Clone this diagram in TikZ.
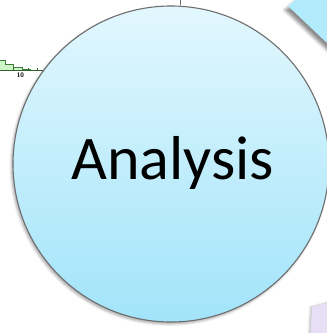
\documentclass[tikz,border=0pt]{standalone}
\usepackage{fontspec}
\setmainfont{Carlito}
\usetikzlibrary{shadows.blur}
\definecolor{ringgray}{HTML}{6E6E6E}
\definecolor{skytop}{HTML}{E2F7FE}
\definecolor{skybot}{HTML}{A2E4FA}
\definecolor{tilecyan}{HTML}{B2EBFC}
\definecolor{tilelav}{HTML}{E6DFF5}
\definecolor{barfill}{HTML}{CDF5C6}
\definecolor{barline}{HTML}{3F7D3F}
\tikzset{
  bigdisc/.style={circle, draw=ringgray, line width=1.1pt, minimum size=316pt,
    inner sep=0pt, top color=skytop, bottom color=skybot,
    blur shadow={shadow xshift=-1.5pt, shadow yshift=-2pt, shadow blur radius=2.5pt, shadow opacity=35}},
  bigword/.style={font=\fontsize{62}{62}\selectfont, anchor=base, inner sep=0pt},
  bars/.style={fill=barfill, draw=barline, line width=0.5pt},
  axisline/.style={draw=barline!80!black, line width=0.7pt},
}
\begin{document}
\begin{tikzpicture}[x=1pt, y=-1pt]
  \useasboundingbox (0,0) rectangle (327,333);
  \clip (0,0) rectangle (327,333);

  % tilted cyan panel, upper right
  \fill[tilecyan, blur shadow={shadow xshift=-3pt, shadow yshift=-4pt, shadow blur radius=3pt, shadow opacity=45}]
    (288,6) -- (298,-2) -- (345,-2) -- (345,60) -- cycle;

  % lavender panel, lower right
  \fill[tilelav, blur shadow={shadow xshift=-1.5pt, shadow yshift=0pt, shadow blur radius=2pt, shadow opacity=25}]
    (312,307) -- (335,301) -- (335,340) -- (310,340) -- cycle;

  % small histogram, upper left
  \draw[bars] (-2,70.5) -- (-2,60) -- (5,60) -- (5,64.5) -- (13,64.5) -- (13,67) -- (22,67)
    -- (22,69) -- (30,69) -- (30,70.5) -- cycle;
  \draw[axisline] (-2,70.5) -- (48,70.5);
  \foreach \tx in {13,28,37} \draw[axisline, line width=0.5pt] (\tx,70.5) -- (\tx,68);
  \node[font=\fontsize{6.5}{6.5}\selectfont\sffamily\bfseries, inner sep=0pt] (tick10) at (20.5,75.5) {10};

  % thin stem above the disc
  \coordinate (stemtop) at (180,-1);

  % the main disc with its label
  \node[bigdisc] (disc) at (171,164) {};
  \draw[ringgray, line width=0.8pt] (stemtop) -- (disc.north -| stemtop);
  \node[bigword] (word) at (172.5,179) {Analysis};
\end{tikzpicture}
\end{document}
